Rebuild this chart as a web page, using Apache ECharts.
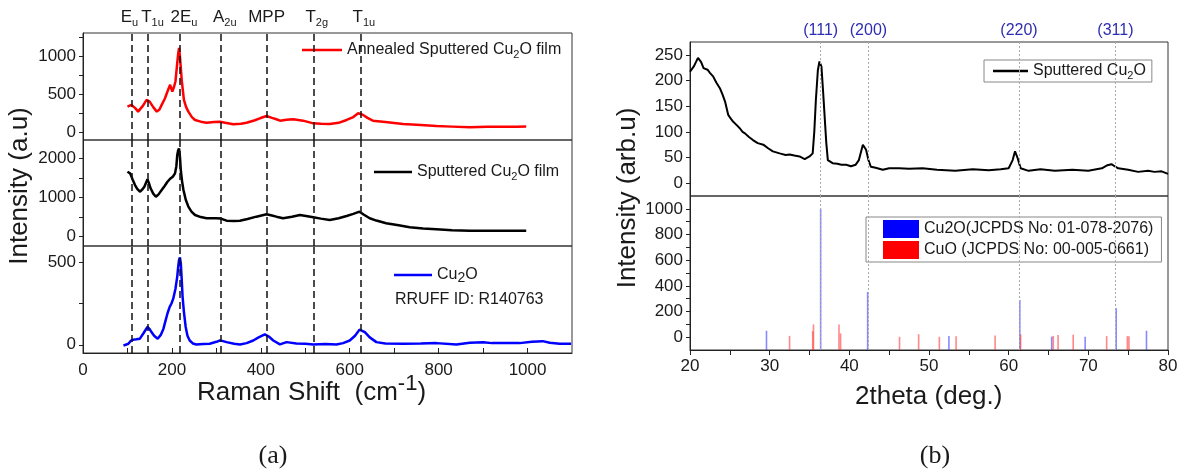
<!DOCTYPE html>
<html><head><meta charset="utf-8">
<script src="https://cdn.jsdelivr.net/npm/echarts@6/dist/echarts.min.js"></script>
<style>html,body{margin:0;padding:0;background:#fff}#c{width:1189px;height:475px}</style>
</head><body><div id="c"></div>
<script>
// ---------- data ----------
const annealedFilm = [[100,337],[109,359],[117,320],[124,271],[135,350],[143,425],[150,403],[158,330],[166,271],[172,300],[177,359],[184,440],[190,534],[196,622],[201,534],[205,600],[208,666],[212,908],[214,1020],[216,1105],[218,995],[220,850],[222,688],[227,425],[232,330],[237,271],[245,200],[252,162],[265,140],[278,126],[295,135],[308,140],[320,125],[338,105],[355,112],[368,126],[385,155],[398,184],[413,214],[425,190],[435,171],[443,153],[458,165],[473,171],[495,153],[518,118],[535,112],[555,109],[575,125],[593,162],[608,200],[619,250],[630,228],[640,190],[652,153],[680,135],[720,109],[760,95],[795,83],[830,75],[870,66],[910,72],[945,74],[975,72],[997,76]];
const sputteredFilm = [[100,1658],[106,1617],[112,1450],[117,1319],[122,1220],[128,1148],[133,1200],[138,1276],[145,1464],[148,1380],[152,1235],[158,1100],[164,1020],[170,1080],[177,1191],[184,1300],[190,1403],[196,1480],[202,1531],[207,1617],[210,1800],[212,2084],[214,2200],[216,2255],[218,2050],[220,1701],[223,1400],[226,1191],[231,950],[237,765],[244,640],[252,553],[265,500],[278,469],[300,469],[310,460],[323,408],[340,400],[353,408],[370,450],[390,510],[413,571],[425,540],[435,510],[450,469],[470,510],[488,553],[505,520],[518,495],[535,460],[555,426],[575,470],[593,528],[608,580],[622,638],[632,560],[645,469],[660,410],[682,342],[710,290],[735,240],[765,210],[795,189],[830,165],[870,153],[910,152],[945,153],[975,152],[997,153]];
const rruffCu2O = [[91,-4],[96,0],[102,6],[108,25],[113,31],[120,33],[128,37],[136,70],[145,108],[150,95],[154,77],[160,55],[168,37],[175,60],[181,98],[186,150],[190,190],[195,230],[199,251],[203,280],[205,291],[208,340],[212,414],[214,470],[216,516],[218,530],[220,496],[222,400],[224,291],[227,200],[231,108],[235,55],[240,26],[247,8],[255,2],[270,4],[285,6],[300,18],[308,26],[315,22],[323,16],[340,6],[353,2],[368,10],[383,26],[395,45],[409,63],[418,50],[428,26],[443,2],[458,16],[480,8],[500,6],[518,2],[545,4],[570,2],[585,10],[600,26],[612,55],[622,92],[628,85],[634,77],[645,45],[660,16],[680,8],[720,6],[760,8],[795,10],[840,2],[870,12],[900,16],[920,10],[945,10],[982,10],[1010,18],[1034,22],[1050,12],[1072,6],[1098,6]];
const xrdSputtered = [[20,217],[20.5,228],[21,244],[21.4,236],[21.7,224],[22.2,221],[22.5,215],[22.9,208],[23.3,196],[23.75,185],[24.1,172],[24.4,159],[24.8,133],[25.1,126],[25.4,120],[25.8,114],[26.25,107],[26.6,100],[26.9,97],[27.4,90],[27.9,84],[28.5,78],[29.2,75],[29.8,68],[30.4,62],[31.25,58],[32,55],[32.5,56],[33.1,54],[33.75,52],[34.4,47],[35,52],[35.4,58],[35.6,100],[35.8,162],[36.05,220],[36.25,237],[36.5,227],[36.7,180],[36.9,130],[37.1,80],[37.3,45],[37.9,39],[38.5,38],[39,36],[39.6,36],[40.2,33],[40.8,36],[41.2,45],[41.7,75],[42.1,65],[42.4,45],[42.7,32],[43.3,30],[44.2,26],[45,29],[46.25,29],[47.5,28],[49.2,29],[51,26],[53.3,24],[55.5,27],[57.5,25],[59,27],[60,29],[60.5,45],[60.8,62],[61.1,50],[61.5,29],[62.5,24],[64,27],[65.8,24],[68,26],[70,24],[71.7,29],[72.4,35],[72.9,37],[73.4,32],[73.75,29],[75,26],[76.25,22],[77.5,24],[78.3,22],[79.2,23],[80,18]];
const cu2oRef = [[29.6,50],[36.4,1000],[42.3,352],[52.5,10],[61.4,290],[65.4,4],[69.6,4],[73.5,225],[77.3,50]];
const cuoRef = [[32.5,10],[35.4,47],[35.5,99],[38.7,99],[38.9,29],[46.3,3],[48.7,23],[51.3,3],[53.4,8],[58.3,13],[61.5,21],[65.6,10],[66.2,16],[68.1,18],[72.3,8],[74.9,8],[75.1,8]];

const ramanModePos = [109,145,218,310,413,519,625];
const ramanModeMain = ['E','T','2E','A','MPP','T','T'];
const ramanModeSub = ['u','1u','u','2u','','2g','1u'];
const hklPos = [36.4,42.4,61.3,73.4];
const hklLabels = ['(111)','(200)','(220)','(311)'];

const ramanXLabels = [0,200,400,600,800,1000];
const ramanXTicks = [0,100,200,300,400,500,600,700,800,900,1000];
const annealedYLabels = [0,500,1000];
const annealedYTicks = [0,250,500,750,1000,1250];
const sputteredYLabels = [0,1000,2000];
const sputteredYTicks = [0,500,1000,1500,2000];
const rruffYLabels = [0,500];
const rruffYTicks = [0,250,500];
const thetaLabels = [20,30,40,50,60,70,80];
const thetaTicks = [20,25,30,35,40,45,50,55,60,65,70,75,80];
const xrdYLabels = [0,50,100,150,200,250];
const refYLabels = [0,200,400,600,800,1000];
const refYTicks = [0,100,200,300,400,500,600,700,800,900,1000];

const seriesNames = ['Annealed Sputtered Cu2O film','Sputtered Cu2O film','Cu2O','Sputtered Cu2O','Cu2O(JCPDS No: 01-078-2076)','CuO (JCPDS No: 00-005-0661)'];

// ---------- styles ----------
const FONT = 'Liberation Sans, Arial, sans-serif';
const TXT = '#1a1a1a';
const modeLabelDx = [-2,5,4,4,0,3,3];   // horizontal nudge of the mode labels (px)
const chart = echarts.init(document.getElementById('c'), null, {renderer:'canvas'});
const plain = v => String(v);

function yAx(grid, min, max, labels, ticks){
  return {type:'value', gridIndex:grid, min:min, max:max,
    axisLine:{show:true, onZero:false, lineStyle:{color:'#222', width:1}},
    axisTick:{show:true, inside:false, length:4, customValues:ticks, lineStyle:{color:'#222'}},
    axisLabel:{customValues:labels, formatter:plain, fontSize:17, color:TXT, fontFamily:FONT, margin:7},
    splitLine:{show:false}};
}
function xHidden(grid, min, max){
  return {type:'value', gridIndex:grid, min:min, max:max, show:false, splitLine:{show:false}};
}
const gridBase = {show:true, borderColor:'#333', borderWidth:1, backgroundColor:'transparent', containLabel:false, outerBoundsMode:'none'};
const subFmt = n => n.replace('Cu2O','Cu{s|2}O');
const legText = {fontSize:16, fontFamily:FONT, color:TXT, lineHeight:20,
  rich:{s:{fontSize:11, fontFamily:FONT, color:TXT, lineHeight:11, verticalAlign:'bottom'}}};

const ramanMark = (withLabel) => ({
  silent:true, symbol:['none','none'], animation:false,
  lineStyle:{type:[7,4], color:'#111', width:1.5},
  label:{show:withLabel, position:'end', distance:5, color:TXT, fontFamily:FONT,
    rich:{m:{fontSize:17, fontFamily:FONT, color:TXT, lineHeight:22},
          s:{fontSize:11, fontFamily:FONT, color:TXT, lineHeight:11, verticalAlign:'bottom'}}},
  emphasis:{disabled:true},
  data: ramanModePos.map((p,i)=>({xAxis:p, label:{offset:[modeLabelDx[i],0], formatter: () => ramanModeSub[i] ? '{m|'+ramanModeMain[i]+'}{s|'+ramanModeSub[i]+'}' : '{m|'+ramanModeMain[i]+'}'}}))
});
const hklMark = (withLabel) => ({
  silent:true, symbol:['none','none'], animation:false,
  lineStyle:{type:[2,2], color:'#aaa', width:1},
  label:{show:withLabel, position:'end', distance:3, color:'#2e2eb0', fontSize:16, fontFamily:FONT},
  emphasis:{disabled:true},
  data: hklPos.map((p,i)=>({xAxis:p, label:{formatter: () => hklLabels[i]}}))
});
const stickRender = (color) => (params, api) => {
  const x = api.value(0), v = api.value(1);
  const p0 = api.coord([x, -100]);
  const p1 = api.coord([x, v]);
  return {type:'line', shape:{x1:p0[0], y1:p0[1], x2:p1[0], y2:p1[1]}, style:{stroke:color, lineWidth:1.6}};
};
const lineLegend = (name, left, top, w, extra) => Object.assign({data:[{name:name, icon:'rect'}], left:left, top:top, itemWidth:w, itemHeight:2.5, padding:0, selectedMode:false, formatter:subFmt, textStyle:legText}, extra||{});

const option = {
  animation:false,
  backgroundColor:'#fff',
  grid:[
    Object.assign({left:83, top:33, width:489, height:107}, gridBase),
    Object.assign({left:83, top:140, width:489, height:106}, gridBase),
    Object.assign({left:83, top:246, width:489, height:107}, gridBase),
    Object.assign({left:690, top:42, width:478, height:154}, gridBase),
    Object.assign({left:690, top:196, width:478, height:154}, gridBase)
  ],
  xAxis:[
    xHidden(0,0,1100), xHidden(1,0,1100),
    {type:'value', gridIndex:2, min:0, max:1100,
     axisLine:{show:true, onZero:false, lineStyle:{color:'#222'}},
     axisTick:{show:true, inside:true, length:5, customValues:ramanXTicks, lineStyle:{color:'#222'}},
     axisLabel:{customValues:ramanXLabels, formatter:plain, fontSize:17, color:TXT, fontFamily:FONT, margin:9},
     splitLine:{show:false}},
    xHidden(3,20,80),
    {type:'value', gridIndex:4, min:20, max:80,
     axisLine:{show:true, onZero:false, lineStyle:{color:'#222'}},
     axisTick:{show:true, inside:false, length:5, customValues:thetaTicks, lineStyle:{color:'#222'}},
     axisLabel:{customValues:thetaLabels, formatter:plain, fontSize:17, color:TXT, fontFamily:FONT, margin:8},
     splitLine:{show:false}}
  ],
  yAxis:[
    yAx(0,-100,1300,annealedYLabels,annealedYTicks),
    yAx(1,-240,2470,sputteredYLabels,sputteredYTicks),
    yAx(2,-50,600,rruffYLabels,rruffYTicks),
    yAx(3,-25,275,xrdYLabels,xrdYLabels),
    yAx(4,-100,1100,refYLabels,refYTicks)
  ],
  legend:[
    lineLegend(seriesNames[0], 302, 40, 40),
    lineLegend(seriesNames[1], 374, 162, 38),
    lineLegend(seriesNames[2], 394, 265, 38, {formatter:()=> 'Cu{s|2}O', textStyle:{fontSize:16, fontFamily:FONT, color:TXT, lineHeight:20,
       rich:{s:{fontSize:14, fontFamily:FONT, color:TXT, lineHeight:14, verticalAlign:'bottom'}}}}),
    lineLegend(seriesNames[3], 984, 60, 35, {padding:[1,6,1,9], borderColor:'#888', borderWidth:1}),
    {data:[{name:seriesNames[4], icon:'rect', itemStyle:{color:'#0000ff'}}, {name:seriesNames[5], icon:'rect', itemStyle:{color:'#ff0000'}}],
     orient:'vertical', left:866, top:217, itemWidth:36, itemHeight:18, itemGap:1, padding:[2,8,2,17], borderColor:'#888', borderWidth:1, selectedMode:false,
     textStyle:{fontSize:16, fontFamily:FONT, color:TXT, lineHeight:20}}
  ],
  series:[
    {name:seriesNames[0], type:'line', xAxisIndex:0, yAxisIndex:0, data:annealedFilm, symbol:'none', lineStyle:{color:'#ff0000', width:2.5}, itemStyle:{color:'#ff0000'}, markLine:ramanMark(true), z:3},
    {name:seriesNames[1], type:'line', xAxisIndex:1, yAxisIndex:1, data:sputteredFilm, symbol:'none', lineStyle:{color:'#000', width:2.5}, itemStyle:{color:'#000'}, markLine:ramanMark(false), z:3},
    {name:seriesNames[2], type:'line', xAxisIndex:2, yAxisIndex:2, data:rruffCu2O, symbol:'none', lineStyle:{color:'#0000ff', width:2.5}, itemStyle:{color:'#0000ff'}, markLine:ramanMark(false), z:3},
    {name:seriesNames[3], type:'line', xAxisIndex:3, yAxisIndex:3, data:xrdSputtered, symbol:'none', lineStyle:{color:'#000', width:2}, itemStyle:{color:'#000'}, markLine:hklMark(true), z:3},
    {name:seriesNames[4], type:'custom', xAxisIndex:4, yAxisIndex:4, data:cu2oRef, encode:{x:0,y:1}, itemStyle:{color:'#0000ff'}, renderItem:stickRender('rgba(40,40,255,0.55)'), markLine:hklMark(false), clip:true},
    {name:seriesNames[5], type:'custom', xAxisIndex:4, yAxisIndex:4, data:cuoRef, encode:{x:0,y:1}, itemStyle:{color:'#ff0000'}, renderItem:stickRender('rgba(255,40,40,0.55)'), clip:true}
  ],
  graphic:[
    {type:'text', x:20, y:186, rotation:Math.PI/2, style:{text:'Intensity (a.u)', fontSize:26, fontFamily:FONT, fill:TXT, align:'center', verticalAlign:'middle'}},
    {type:'text', x:628, y:198, rotation:Math.PI/2, style:{text:'Intensity (arb.u)', fontSize:26, fontFamily:FONT, fill:TXT, align:'center', verticalAlign:'middle'}},
    {type:'text', x:197, y:393, style:{text:'{m|Raman Shift  (cm}{p|-1}{m|)}', fontFamily:FONT, fill:TXT, align:'left', verticalAlign:'middle',
       rich:{m:{fontSize:26, fontFamily:FONT, lineHeight:40, fill:TXT}, p:{fontSize:22, fontFamily:FONT, lineHeight:22, verticalAlign:'top', fill:TXT}}}},
    {type:'text', x:855, y:397, style:{text:'2theta (deg.)', fontSize:26, fontFamily:FONT, fill:TXT, align:'left', verticalAlign:'middle'}},
    {type:'text', x:395, y:300, style:{text:'RRUFF ID: R140763', fontSize:16, fontFamily:FONT, fill:TXT, align:'left', verticalAlign:'middle'}},
    {type:'text', x:273, y:456, style:{text:'(a)', fontSize:26, fontFamily:'Liberation Serif, Times New Roman, serif', fill:TXT, align:'center', verticalAlign:'middle'}},
    {type:'text', x:935, y:456, style:{text:'(b)', fontSize:26, fontFamily:'Liberation Serif, Times New Roman, serif', fill:TXT, align:'center', verticalAlign:'middle'}}
  ]
};
chart.setOption(option);
</script>
</body></html>
